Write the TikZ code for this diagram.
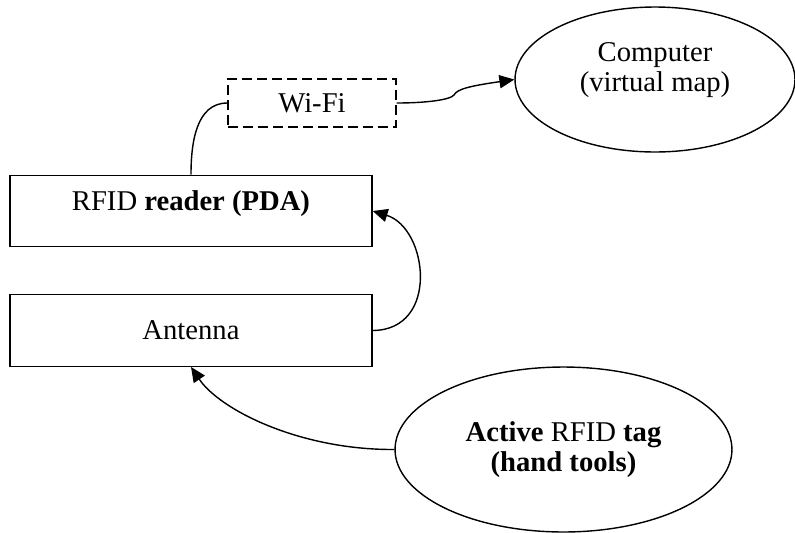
\documentclass[tikz,border=0pt]{standalone}
\usepackage{fontspec}
\setmainfont{Liberation Serif}
\usetikzlibrary{shapes.geometric,arrows.meta}

\begin{document}
\begin{tikzpicture}[x=0.02cm, y=-0.02cm, line width=0.8pt,
    font=\fontsize{16.3}{17.5}\selectfont,
    box/.style={draw, rectangle, minimum width=7.24cm, minimum height=1.43cm, inner sep=0pt},
    linkbox/.style={draw, dash pattern=on 0.2cm off 0.1cm, minimum width=3.36cm, minimum height=0.96cm, inner sep=0pt},
    blob/.style={draw, ellipse, align=center, inner sep=0pt},
    arr/.style={-{Triangle[length=8.5pt,width=7.5pt]}}]

    \useasboundingbox (0,0) rectangle (795,532);

    \node[box] (reader) at (191,211) {RFID \textbf{reader (PDA)}\rule[-0.42cm]{0pt}{0pt}};
    \node[box] (antenna) at (191,330.5) {Antenna};
    \node[linkbox] (wifi) at (312,103) {Wi-Fi};

    \node[blob, minimum width=5.6cm, minimum height=2.9cm] (computer) at (655,79.5)
        {Computer\\(virtual map)\rule[-0.5cm]{0pt}{0pt}};
    \node[blob, minimum width=6.74cm, minimum height=3.3cm] (tag) at (563.5,449.5)
        {\textbf{Active} RFID \textbf{tag}\\\textbf{(hand tools)}};

    % links
    \draw (reader.north) to[out=90, in=180] (wifi.west);
    \draw[arr] (wifi.east) .. controls (425,103) and (450,100) .. (454,95)
        .. controls (457,89) and (470,86) .. (computer.west);
    \draw[arr] (antenna.east) .. controls (440,330) and (428,228) .. (reader.east);
    \draw[arr] (tag.west) .. controls (300,450) and (220,410) .. (antenna.south);

\end{tikzpicture}
\end{document}
